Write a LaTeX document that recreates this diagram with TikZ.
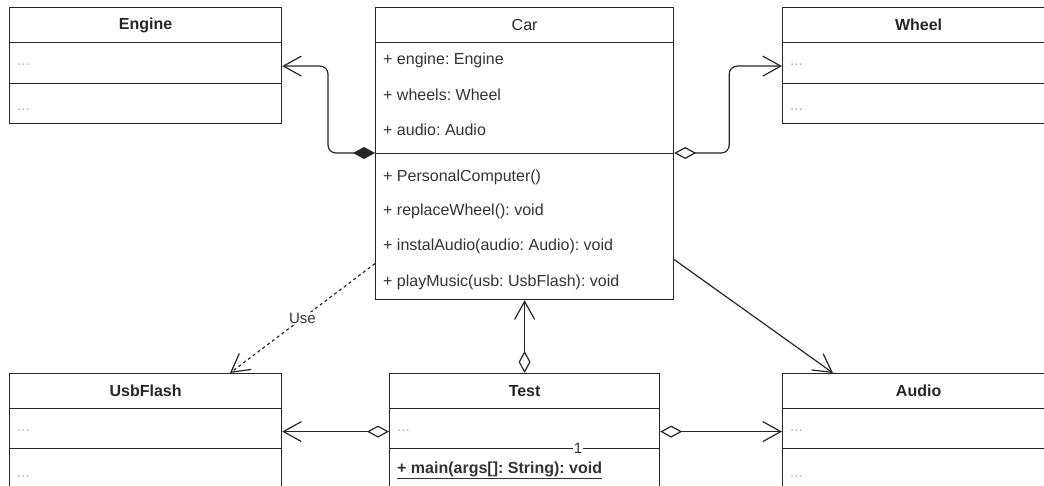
\documentclass[tikz,border=0pt]{standalone}
\usepackage{fontspec}
\setmainfont{Liberation Sans}
\usetikzlibrary{arrows.meta}
\frenchspacing
\tikzset{
  umlhead/.style={draw=black!85, line width=1.2pt, anchor=north west, inner sep=0pt,
    minimum height=35pt, font=\fontsize{16}{19}\selectfont\bfseries, text=black!85},
  umlpart/.style={draw=black!85, line width=1.2pt, anchor=north west, inner sep=0pt},
  member/.style={anchor=west, inner sep=0pt, font=\fontsize{16}{19}\selectfont, text=black!80},
  dots/.style={anchor=west, inner sep=0pt, font=\fontsize{15}{18}\selectfont, text=gray!60},
  tag/.style={fill=white, inner sep=1pt, font=\fontsize{15}{18}\selectfont, text=black!80},
  link/.style={draw=black!85, line width=1.2pt},
  compose/.style={{Diamond[length=22pt,width=12pt]}-{Straight Barb[length=18pt,width=20pt]}},
  aggregate/.style={{Diamond[open,length=22pt,width=12pt,fill=white]}-{Straight Barb[length=18pt,width=20pt]}},
  assoc/.style={-{Straight Barb[length=18pt,width=20pt]}},
  depend/.style={dashed, -{Straight Barb[length=18pt,width=20pt]}}
}
\begin{document}
\begin{tikzpicture}[x=1pt, y=-1pt]
\useasboundingbox (0,0) rectangle (1044,486);
\clip (0,0) rectangle (1044,486);
\node[umlhead, minimum width=272pt] (engine) at (9,7) {Engine};
\node[umlpart, minimum width=272pt, minimum height=41pt] (engine-attr) at (9,42) {};
\node[umlpart, minimum width=272pt, minimum height=40pt] (engine-meth) at (9,83) {};
\node[dots] (engine-a) at (17,65) {...};
\node[dots] (engine-m) at (17,110) {...};
\node[umlhead, minimum width=298pt, font=\fontsize{16}{19}\selectfont] (car) at (375,7) {Car};
\node[umlpart, minimum width=298pt, minimum height=111pt] (car-attr) at (375,42) {};
\node[umlpart, minimum width=298pt, minimum height=146pt] (car-meth) at (375,153) {};
\node[member] (car-a1) at (383,60) {+ engine: Engine};
\node[member] (car-a2) at (383,95) {+ wheels: Wheel};
\node[member] (car-a3) at (383,130) {+ audio: Audio};
\node[member] (car-m1) at (383,177) {+ PersonalComputer()};
\node[member] (car-m2) at (383,211) {+ replaceWheel(): void};
\node[member] (car-m3) at (383,246) {+ instalAudio(audio: Audio): void};
\node[member] (car-m4) at (383,282) {+ playMusic(usb: UsbFlash): void};
\node[umlhead, minimum width=272pt] (wheel) at (782,7) {Wheel};
\node[umlpart, minimum width=272pt, minimum height=41pt] (wheel-attr) at (782,42) {};
\node[umlpart, minimum width=272pt, minimum height=40pt] (wheel-meth) at (782,83) {};
\node[dots] (wheel-a) at (790,65) {...};
\node[dots] (wheel-m) at (790,110) {...};
\node[umlhead, minimum width=272pt] (usbflash) at (9,373) {UsbFlash};
\node[umlpart, minimum width=272pt, minimum height=40pt] (usbflash-attr) at (9,408) {};
\node[umlpart, minimum width=272pt, minimum height=50pt] (usbflash-meth) at (9,448) {};
\node[dots] (usbflash-a) at (17,431) {...};
\node[dots] (usbflash-m) at (17,477) {...};
\node[umlhead, minimum width=270pt] (test) at (389,373) {Test};
\node[umlpart, minimum width=270pt, minimum height=40pt] (test-attr) at (389,408) {};
\node[umlpart, minimum width=270pt, minimum height=50pt] (test-meth) at (389,448) {};
\node[dots] (test-a) at (397,431) {...};
\node[member, font=\fontsize{16}{19}\selectfont\bfseries] (test-m) at (397,470) {\underline{+ main(args[]: String): void}};
\node[umlhead, minimum width=272pt] (audio) at (782,373) {Audio};
\node[umlpart, minimum width=272pt, minimum height=40pt] (audio-attr) at (782,408) {};
\node[umlpart, minimum width=272pt, minimum height=50pt] (audio-meth) at (782,448) {};
\node[dots] (audio-a) at (790,431) {...};
\node[dots] (audio-m) at (790,477) {...};
\draw[link, compose, rounded corners=8pt] (car-meth.north west) -- ++(-47,0) |- ([yshift=-3pt]engine-attr.east);
\draw[link, aggregate, rounded corners=8pt] (car-meth.north east) -- ++(55,0) |- ([yshift=-3pt]wheel-attr.west);
\draw[link, assoc] ([yshift=-33pt]car-meth.east) -- ([xshift=51pt]audio.north west);
\draw[link, depend] ([yshift=-37pt]car-meth.west) -- node[tag] (use) {Use} ([xshift=221pt]usbflash.north west);
\draw[link, aggregate] (test.north) -- (car-meth.south);
\draw[link, aggregate] ([yshift=-3pt]test-attr.west) -- ([yshift=-3pt]usbflash-attr.east);
\draw[link, aggregate] ([yshift=-3pt]test-attr.east) -- ([yshift=-3pt]audio-attr.west);
\node[tag] (mult) at (578,448) {1};
\end{tikzpicture}
\end{document}
